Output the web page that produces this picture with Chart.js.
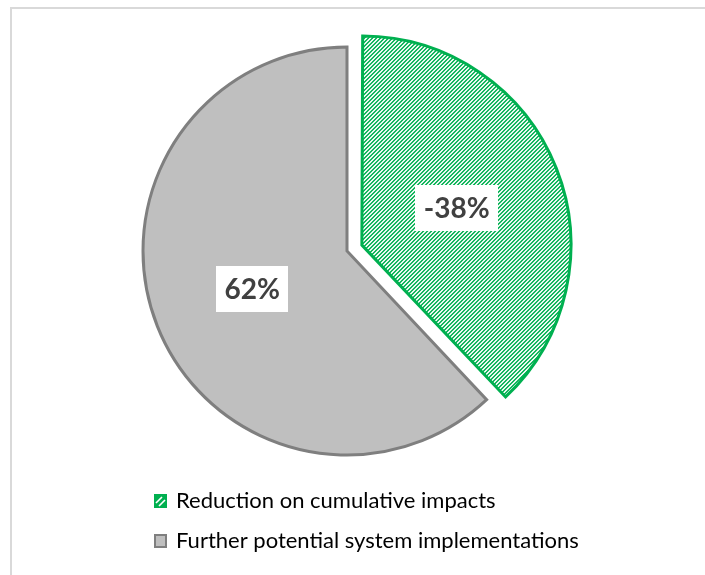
<!DOCTYPE html>
<html>
<head>
<meta charset="utf-8">
<script src="https://cdn.jsdelivr.net/npm/chart.js@4/dist/chart.umd.min.js"></script>
<style>
  html, body { margin: 0; padding: 0; background: #ffffff; overflow: hidden; }
  canvas { display: block; }
</style>
</head>
<body>
<canvas id="chart" width="705" height="575"></canvas>
<script>
// Categories and their signed shares (%)
const categories = ['Reduction on cumulative impacts', 'Further potential system implementations'];
const shareValues = [-38, 62];
const fillColors = ['#00b050', '#bfbfbf'];
const edgeColors = ['#00b050', '#7f7f7f'];
const explodeOffsets = [64, 0];

// Diagonal "/" hatch on white
function makeHatch(color) {
  const tile = document.createElement('canvas');
  tile.width = 4; tile.height = 4;
  const t = tile.getContext('2d');
  t.fillStyle = '#ffffff';
  t.fillRect(0, 0, 4, 4);
  t.fillStyle = color;
  for (let y = 0; y < 4; y++) {
    for (let x = 0; x < 4; x++) {
      const k = (x + y) % 4;
      if (k === 0 || k === 1) t.fillRect(x, y, 1, 1);
    }
  }
  return t.createPattern(tile, 'repeat');
}

const ctx = document.getElementById('chart').getContext('2d');
const hatchGreen = makeHatch(fillColors[0]);

// Light frame along the top and left edges
const framePlugin = {
  id: 'frame',
  beforeDraw(chart) {
    const c = chart.ctx;
    c.save();
    c.fillStyle = '#ffffff';
    c.fillRect(0, 0, chart.width, chart.height);
    c.fillStyle = '#d9d9d9';
    c.fillRect(10, 7, chart.width - 10, 2);
    c.fillRect(10, 7, 2, chart.height - 7);
    c.restore();
  }
};

// Value labels in white boxes at the middle of each (exploded) slice
const valueLabels = {
  id: 'valueLabels',
  afterDatasetsDraw(chart) {
    const c = chart.ctx;
    const meta = chart.getDatasetMeta(0);
    c.save();
    c.font = 'bold 28px Lato';
    c.textAlign = 'center';
    c.textBaseline = 'middle';
    meta.data.forEach((arc, i) => {
      const half = (arc.startAngle + arc.endAngle) / 2;
      const shift = (arc.options.offset || 0) / 4;
      const dist = shift + arc.outerRadius / 2;
      const x = arc.x + Math.cos(half) * dist;
      const y = arc.y + Math.sin(half) * dist;
      const text = shareValues[i] + '%';
      const w = c.measureText(text).width + 17;
      const h = 46;
      c.fillStyle = '#ffffff';
      c.fillRect(Math.round(x - w / 2), Math.round(y - h / 2), Math.round(w), h);
      c.fillStyle = '#404040';
      c.fillText(text, x, y + 1);
    });
    c.restore();
  }
};

// Legend stacked under the pie
const stackedLegend = {
  id: 'stackedLegend',
  afterDraw(chart) {
    const c = chart.ctx;
    const left = 154, rows = [501, 541];
    c.save();
    c.font = '22px Lato';
    c.textBaseline = 'middle';
    c.textAlign = 'left';
    categories.forEach((label, i) => {
      const y = rows[i];
      if (i === 0) {
        c.fillStyle = fillColors[0];
        c.fillRect(left, y - 7, 13, 14);
        c.strokeStyle = '#ffffff';
        c.lineWidth = 1.6;
        c.beginPath();
        c.moveTo(left + 2, y + 2); c.lineTo(left + 8, y - 4);
        c.moveTo(left + 5, y + 5); c.lineTo(left + 11, y - 1);
        c.stroke();
      } else {
        c.fillStyle = fillColors[1];
        c.fillRect(left, y - 7, 13, 14);
        c.strokeStyle = edgeColors[1];
        c.lineWidth = 2;
        c.strokeRect(left + 1, y - 6, 11, 12);
      }
      c.fillStyle = '#000000';
      c.fillText(label, 176, y);
    });
    c.restore();
  }
};

new Chart(ctx, {
  type: 'pie',
  data: {
    labels: categories,
    datasets: [{
      data: shareValues.map(v => Math.abs(v)),
      backgroundColor: [hatchGreen, fillColors[1]],
      borderColor: edgeColors,
      borderWidth: 3,
      borderJoinStyle: 'miter',
      offset: explodeOffsets
    }]
  },
  options: {
    responsive: false,
    animation: false,
    events: [],
    radius: 204,
    layout: { padding: { left: 0, right: 11, top: 0, bottom: 73 } },
    plugins: {
      legend: { display: false },
      tooltip: { enabled: false }
    }
  },
  plugins: [framePlugin, valueLabels, stackedLegend]
});
</script>
</body>
</html>
